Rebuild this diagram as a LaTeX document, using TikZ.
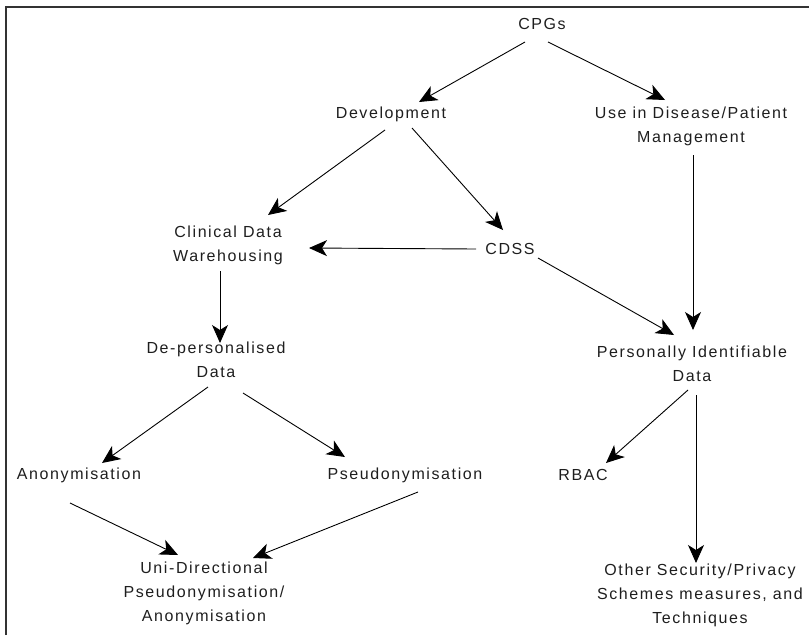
\documentclass[tikz,border=0pt]{standalone}
\usepackage{fontspec}
\setmainfont[LetterSpace=10]{Liberation Sans}
\usetikzlibrary{arrows.meta}
\definecolor{ink}{HTML}{1E1E1E}
\definecolor{frame}{HTML}{333333}
\tikzset{
  lbl/.style={inner sep=0pt, align=center, text=ink,
    font=\fontsize{16}{24}\selectfont},
  arr/.style={draw=black, line width=0.9pt,
    -{Stealth[length=18pt,width=16pt,inset=5pt]}},
  rim/.style={draw=frame, line width=1.6pt}
}
\begin{document}
\begin{tikzpicture}[x=1pt,y=-1pt]
  \useasboundingbox (0,0) rectangle (809,635);
  % open frame: top and left edges
  \draw[rim] (6,635) -- (6,7) -- (809,7);

  % nodes
  \node[lbl] (cpg)  at (542,24)  {CPGs};
  \node[lbl] (dev)  at (391,114) {Development};
  \node[lbl] (use)  at (691,126) {Use in Disease/Patient\\Management};
  \node[lbl] (cdw)  at (228,245) {Clinical Data\\Warehousing};
  \node[lbl] (cdss) at (510,249) {CDSS};
  \node[lbl] (dep)  at (216,360) {De-personalised\\Data};
  \node[lbl] (pii)  at (692,364) {Personally Identifiable\\Data};
  \node[lbl] (ano)  at (79,475)  {Anonymisation};
  \node[lbl] (pse)  at (405,475) {Pseudonymisation};
  \node[lbl] (rbac) at (583,475) {RBAC};
  \node[lbl] (uni)  at (204,593) {Uni-Directional\\Pseudonymisation/\\Anonymisation};
  \node[lbl] (oth)  at (700,595) {Other Security/Privacy\\Schemes measures, and\\Techniques};

  % connectors
  \draw[arr] ([shift={(-17,18)}]cpg.center)  -- ([shift={(28,-12)}]dev.center);
  \draw[arr] ([shift={(6,18)}]cpg.center)    -- ([shift={(-26,-26)}]use.center);
  \draw[arr] ([shift={(-6,16)}]dev.center)   -- ([shift={(40,-30)}]cdw.center);
  \draw[arr] ([shift={(21,14)}]dev.center)   -- ([shift={(-7,-19)}]cdss.center);
  \draw[arr] ([shift={(-34,0)}]cdss.center)  -- ([shift={(81,3)}]cdw.center);
  \draw[arr] ([shift={(28,9)}]cdss.center)   -- ([shift={(-18,-29)}]pii.center);
  \draw[arr] ([shift={(2,29)}]use.center)    -- ([shift={(1,-34)}]pii.center);
  \draw[arr] ([shift={(-8,26)}]cdw.center)   -- ([shift={(4,-17)}]dep.center);
  \draw[arr] ([shift={(-8,27)}]dep.center)   -- ([shift={(23,-12)}]ano.center);
  \draw[arr] ([shift={(27,33)}]dep.center)   -- ([shift={(-60,-18)}]pse.center);
  \draw[arr] ([shift={(-4,26)}]pii.center)   -- ([shift={(23,-12)}]rbac.center);
  \draw[arr] ([shift={(4,31)}]pii.center)    -- ([shift={(-4,-32)}]oth.center);
  \draw[arr] ([shift={(-9,28)}]ano.center)   -- ([shift={(-26,-38)}]uni.center);
  \draw[arr] ([shift={(13,17)}]pse.center)   -- ([shift={(49,-35)}]uni.center);
\end{tikzpicture}
\end{document}
